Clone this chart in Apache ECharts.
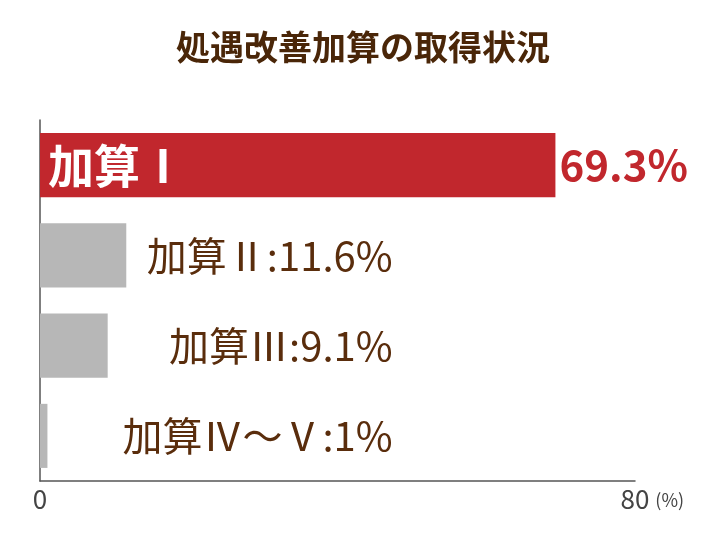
<!DOCTYPE html>
<html>
<head>
<meta charset="utf-8">
<script src="https://cdn.jsdelivr.net/npm/echarts@6/dist/echarts.min.js"></script>
<style>
  html, body { margin: 0; padding: 0; background: #fff; }
  #chart { width: 726px; height: 545px; }
</style>
</head>
<body>
<div id="chart"></div>
<script>
// 取得状況データ
const categories = ['加算Ⅰ', '加算Ⅱ', '加算Ⅲ', '加算Ⅳ～Ⅴ'];
const values = [69.3, 11.6, 9.1, 1];
const valueLabels = ['69.3%', '11.6%', '9.1%', '1%'];
const axisTicks = [0, 80];

const RED = '#c1272d';
const GRAY = '#b7b7b7';
const BROWN = '#5a2d0c';
const FONT = '"Noto Sans CJK JP", sans-serif';
// 右寄せラベルの基準位置（値軸上）
const labelAnchor = 47.4;

const chart = echarts.init(document.getElementById('chart'));

const barData = values.map((v, i) => {
  const item = { value: v, itemStyle: { color: i === 0 ? RED : GRAY } };
  if (i === 0) {
    item.label = {
      show: true,
      position: 'insideLeft',
      distance: 8,
      formatter: categories[0],
      color: '#fff',
      fontSize: 46,
      fontWeight: 'bold',
      fontFamily: FONT
    };
  }
  return item;
});

chart.setOption({
  animation: false,
  title: {
    text: '処遇改善加算の取得状況',
    left: 'center',
    top: 25,
    textStyle: { color: '#4a2608', fontSize: 34, fontWeight: 'bold', fontFamily: FONT }
  },
  grid: { left: 40, right: 91, top: 120, bottom: 64 },
  xAxis: {
    type: 'value',
    min: axisTicks[0],
    max: axisTicks[axisTicks.length - 1],
    interval: 80,
    splitLine: { show: false },
    axisTick: { show: false },
    axisLine: { show: true, lineStyle: { color: '#555', width: 1.5 } },
    axisLabel: { color: '#444', fontSize: 26, fontFamily: FONT, margin: 5 },
    name: '(%)',
    nameLocation: 'end',
    nameGap: 20,
    nameTextStyle: { color: '#444', fontSize: 18, fontFamily: FONT, verticalAlign: 'top', padding: [10, 0, 0, 0] }
  },
  yAxis: {
    type: 'category',
    data: categories,
    inverse: true,
    axisLine: { show: true, lineStyle: { color: '#555', width: 1.5 } },
    axisTick: { show: false },
    axisLabel: { show: false }
  },
  series: [
    {
      type: 'bar',
      data: barData,
      barWidth: '71%',
      label: { show: false }
    },
    {
      // 加算Ⅰの数値ラベル
      type: 'bar',
      data: values.map((v, i) => i === 0 ? v : null),
      barWidth: '71%',
      barGap: '-100%',
      itemStyle: { color: 'transparent' },
      label: {
        show: true,
        position: 'right',
        distance: 4,
        formatter: p => valueLabels[p.dataIndex],
        color: RED,
        fontSize: 42,
        fontWeight: 'bold',
        fontFamily: FONT
      },
      silent: true
    },
    {
      // 加算Ⅱ以降のラベル（右寄せ）
      type: 'scatter',
      symbolSize: 0,
      itemStyle: { opacity: 1 },
      data: categories.map((c, i) => i === 0 ? null : [labelAnchor, i]).filter(d => d),
      label: {
        show: true,
        position: 'left',
        distance: 0,
        formatter: p => categories[p.data[1]] + ':' + valueLabels[p.data[1]],
        color: BROWN,
        opacity: 1,
        fontSize: 40,
        fontFamily: FONT
      },
      silent: true
    }
  ]
});

window.addEventListener('resize', () => chart.resize());
</script>
</body>
</html>
